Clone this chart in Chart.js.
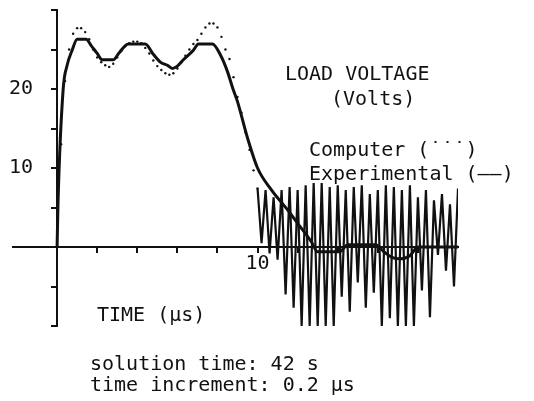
<!DOCTYPE html>
<html>
<head>
<meta charset="utf-8">
<script src="https://cdn.jsdelivr.net/npm/chart.js@4.4.1/dist/chart.umd.min.js"></script>
<style>
  html, body { margin: 0; padding: 0; background: #fff; }
  canvas { display: block; }
</style>
</head>
<body>
<canvas id="myChart" width="534" height="401"></canvas>
<script>
// experimental load voltage (solid line), time in us
const expTime = [0, 0.05, 0.3, 0.5, 0.75, 1.0, 1.45, 1.7, 2.0, 2.25, 2.8, 3.1, 3.55, 4.4, 4.8, 5.15, 5.5, 5.75, 6.0, 6.3, 6.8, 7.05, 7.75, 8.15, 8.5, 8.75, 9.0, 9.5, 10.0, 10.7, 11.5, 12.0, 12.7, 13.0, 14.1, 14.5, 15.9, 16.3, 16.7, 17.1, 17.6, 18.0, 20.0];
const expVolts = [0, 6, 19.9, 23.0, 24.9, 26.3, 26.3, 25.5, 24.5, 23.7, 23.7, 24.6, 25.7, 25.7, 24.4, 23.4, 23.0, 22.6, 22.9, 23.7, 24.9, 25.7, 25.7, 24.3, 22.2, 20.2, 18.4, 13.8, 10.0, 7.2, 4.7, 3.0, 0.6, -0.6, -0.6, 0.3, 0.3, -0.6, -1.3, -1.5, -1.1, 0, 0];

// computer solution (dotted), one value every time increment
const timeStep = 0.2;
const compVolts = [0, 13, 21, 25.0, 27.0, 27.7, 27.7, 27.2, 26.3, 25.0,
  24.0, 23.4, 23.0, 22.8, 23.2, 24.0, 24.8, 25.4, 25.8, 26.0,
  26.0, 25.8, 25.2, 24.5, 23.6, 22.9, 22.4, 22.0, 21.8, 22.0,
  22.6, 23.4, 24.2, 25.0, 25.7, 26.2, 27.0, 27.8, 28.3, 28.3,
  27.8, 26.6, 25.0, 23.8, 21.5, 19.0, 17.0, 14.5, 12.3, 9.7,
  7.4];
// numerical oscillation after 10 us (10.2 .. 20.0)
const oscVolts = [0.5, 7.2, -0.8, 6.3, -1.6, 7.2, -6.0, 7.6, -7.7, 7.2,
  -10, 7.8, -10, 8.1, -10, 8.1, -10, 7.6, -10, 7.8,
  -6.3, 7.2, -8.2, 7.6, -4.5, 7.8, -7.7, 6.7, -5.8, 7.2,
  -10, 7.8, -9.0, 7.6, -10, 7.2, -10, 7.8, -10, 6.3,
  -5.5, 7.2, -8.9, 5.9, -1.0, 6.7, -3.0, 5.4, -5.0, 7.4];

const yLabels = [10, 20];
const xLabels = [10];

const font = '"DejaVu Sans Mono", monospace';

const expData = expTime.map((t, i) => ({ x: t, y: expVolts[i] }));
const compData = compVolts.map((v, i) => ({ x: +(i * timeStep).toFixed(1), y: v }));
const oscData = [compData[compData.length - 1]].concat(
  oscVolts.map((v, i) => ({ x: +(10 + (i + 1) * timeStep).toFixed(1), y: v })));

const noPad = s => { s.paddingTop = 0; s.paddingBottom = 0; s.paddingLeft = 0; s.paddingRight = 0; };

const labelsPlugin = {
  id: 'labels',
  afterDraw(chart) {
    const c = chart.ctx;
    c.save();
    c.fillStyle = '#111';
    c.textBaseline = 'alphabetic';
    c.textAlign = 'left';
    c.font = '20px ' + font;
    c.fillText('LOAD VOLTAGE', 285, 80);
    c.fillText('(Volts)', 331, 105);
    c.fillText('Computer (˙˙˙)', 309, 156);
    c.fillText('Experimental (——)', 309, 180);
    c.fillText('TIME (\u00b5s)', 97, 321);
    c.fillText('solution time: 42 s', 90, 370);
    c.fillText('time increment: 0.2 \u00b5s', 90, 391);
    c.restore();
  }
};

new Chart(document.getElementById('myChart'), {
  type: 'line',
  data: {
    datasets: [{
      label: 'Experimental',
      data: expData,
      borderColor: '#111',
      borderWidth: 3,
      pointRadius: 0,
      cubicInterpolationMode: 'monotone'
    }, {
      label: 'Computer',
      data: compData,
      showLine: false,
      pointRadius: 1.2,
      pointBorderWidth: 0,
      pointBackgroundColor: '#111'
    }, {
      label: 'Computer oscillation',
      data: oscData,
      borderColor: '#111',
      borderWidth: 2.2,
      pointRadius: 0,
      tension: 0
    }]
  },
  options: {
    responsive: false,
    animation: false,
    layout: { padding: { left: 13, top: 10, right: 76, bottom: 75 } },
    plugins: { legend: { display: false }, tooltip: { enabled: false } },
    scales: {
      x: {
        type: 'linear',
        min: -2.2,
        max: 20,
        position: { y: 0 },
        border: { color: '#111', width: 2 },
        grid: { drawOnChartArea: false, drawTicks: true, tickLength: 5, color: '#111', lineWidth: 2 },
        afterBuildTicks: s => { s.ticks = s.ticks.filter(t => t.value > 0 && t.value < 20); },
        afterFit: noPad,
        ticks: {
          stepSize: 2,
          autoSkip: false,
          maxRotation: 0,
          padding: 0,
          color: '#111',
          font: { family: font, size: 20 },
          callback: v => xLabels.includes(v) ? String(v) : ''
        }
      },
      y: {
        min: -10,
        max: 30,
        position: { x: 0 },
        border: { color: '#111', width: 2 },
        grid: { drawOnChartArea: false, drawTicks: true, tickLength: 5, color: '#111', lineWidth: 2 },
        afterBuildTicks: s => { s.ticks = s.ticks.filter(t => t.value !== 0); },
        afterFit: noPad,
        ticks: {
          stepSize: 5,
          autoSkip: false,
          color: '#111',
          font: { family: font, size: 20 },
          callback: v => yLabels.includes(v) ? String(v) + '  ' : ''
        }
      }
    }
  },
  plugins: [labelsPlugin]
});
</script>
</body>
</html>
